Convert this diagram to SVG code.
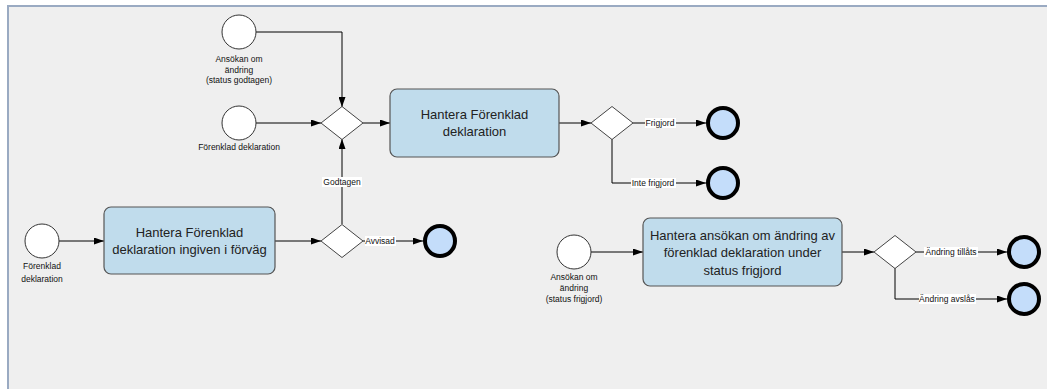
<svg xmlns="http://www.w3.org/2000/svg" width="1047" height="389" viewBox="0 0 1047 389">
<style>
.start{fill:#ffffff;stroke:#333333;stroke-width:1}
.end{fill:#c4ddfa;stroke:#000000;stroke-width:4}
.task{fill:#c0dcec;stroke:#555555;stroke-width:1.2}
.gw{fill:#ffffff;stroke:#444444;stroke-width:1}
.conn{fill:none;stroke:#000000;stroke-width:1;marker-end:url(#arr)}
.tt{font-family:"Liberation Sans",Arial,sans-serif;font-size:13px;fill:#222222;text-anchor:middle}
.lbl{font-family:"Liberation Sans",Arial,sans-serif;font-size:8.5px;fill:#111111;text-anchor:middle}
.lb{fill:#ffffff}
</style>
<defs>
<marker id="arr" markerUnits="userSpaceOnUse" markerWidth="10" markerHeight="7" refX="10" refY="3.5" orient="auto">
<path d="M0,0 L10,3.5 L0,7 z" fill="#000000"/>
</marker>
</defs>
<rect x="0" y="0" width="1047" height="389" fill="#ffffff"/>
<rect x="7" y="5" width="1040" height="384" fill="#efefef"/>
<line x1="7" y1="6" x2="1047" y2="6" stroke="#9aaac2" stroke-width="2"/>
<line x1="8" y1="5" x2="8" y2="389" stroke="#9aaac2" stroke-width="2"/>

<g id="connectors">
<path class="conn" d="M256,32 H342 V107"/>
<path class="conn" d="M256,123 H321"/>
<path class="conn" d="M342,224 V139"/>
<path class="conn" d="M363,123 H390"/>
<path class="conn" d="M559,123 H591"/>
<path class="conn" d="M633,123 H706"/>
<path class="conn" d="M612,139 V183 H706"/>
<path class="conn" d="M59,241 H104"/>
<path class="conn" d="M275,241 H321"/>
<path class="conn" d="M363,241 H423"/>
<path class="conn" d="M591,252 H643"/>
<path class="conn" d="M842,252 H874"/>
<path class="conn" d="M916,252 H1007"/>
<path class="conn" d="M895,268 V299 H1007"/>
<rect class="lb" x="322" y="177" width="40" height="10"/>
<text class="lbl" x="342" y="185">Godtagen</text>
<rect class="lb" x="645" y="118" width="31" height="10"/>
<text class="lbl" x="660" y="126">Frigjord</text>
<rect class="lb" x="631" y="178" width="45" height="10"/>
<text class="lbl" x="653" y="186">Inte frigjord</text>
<rect class="lb" x="365" y="236" width="31" height="10"/>
<text class="lbl" x="380" y="244">Avvisad</text>
<rect class="lb" x="924" y="247" width="54" height="10"/>
<text class="lbl" x="951" y="255">Ändring tillåts</text>
<rect class="lb" x="919" y="294" width="57" height="10"/>
<text class="lbl" x="947" y="302">Ändring avslås</text>
</g>

<g id="n1">
<circle class="start" cx="239" cy="32" r="17"/>
<text class="lbl" x="239" y="62">Ansökan om</text>
<text class="lbl" x="239" y="72.5">ändring</text>
<text class="lbl" x="239" y="83">(status godtagen)</text>
</g>
<g id="n2">
<circle class="start" cx="239" cy="123" r="17"/>
<text class="lbl" x="239" y="150">Förenklad deklaration</text>
</g>
<g id="g1"><path class="gw" d="M321,123 L342,106.5 L363,123 L342,139.5 z"/></g>
<g id="t1">
<rect class="task" x="390" y="89" width="169" height="68" rx="7"/>
<text class="tt" x="474.5" y="119">Hantera Förenklad</text>
<text class="tt" x="474.5" y="136">deklaration</text>
</g>
<g id="g2"><path class="gw" d="M591,123 L612,106.5 L633,123 L612,139.5 z"/></g>
<g id="e1"><circle class="end" cx="723" cy="123" r="15"/></g>
<g id="e2"><circle class="end" cx="723" cy="183" r="15"/></g>

<g id="n3">
<circle class="start" cx="42" cy="241" r="17"/>
<text class="lbl" x="42" y="269">Förenklad</text>
<text class="lbl" x="42" y="282">deklaration</text>
</g>
<g id="t2">
<rect class="task" x="104" y="207" width="171" height="67" rx="7"/>
<text class="tt" x="189.5" y="237">Hantera Förenklad</text>
<text class="tt" x="189.5" y="254">deklaration ingiven i förväg</text>
</g>
<g id="g3"><path class="gw" d="M321,241 L342,224.5 L363,241 L342,257.5 z"/></g>
<g id="e3"><circle class="end" cx="440" cy="241" r="15"/></g>

<g id="n4">
<circle class="start" cx="574" cy="252" r="17"/>
<text class="lbl" x="574" y="280">Ansökan om</text>
<text class="lbl" x="574" y="291">ändring</text>
<text class="lbl" x="574" y="302">(status frigjord)</text>
</g>
<g id="t3">
<rect class="task" x="643" y="218" width="199" height="68" rx="7"/>
<text class="tt" x="742.5" y="239.5">Hantera ansökan om ändring av</text>
<text class="tt" x="742.5" y="257">förenklad deklaration under</text>
<text class="tt" x="742.5" y="274.5">status frigjord</text>
</g>
<g id="g4"><path class="gw" d="M874,252 L895,235.5 L916,252 L895,268.5 z"/></g>
<g id="e4"><circle class="end" cx="1024" cy="252" r="15"/></g>
<g id="e5"><circle class="end" cx="1024" cy="299" r="15"/></g>
</svg>
